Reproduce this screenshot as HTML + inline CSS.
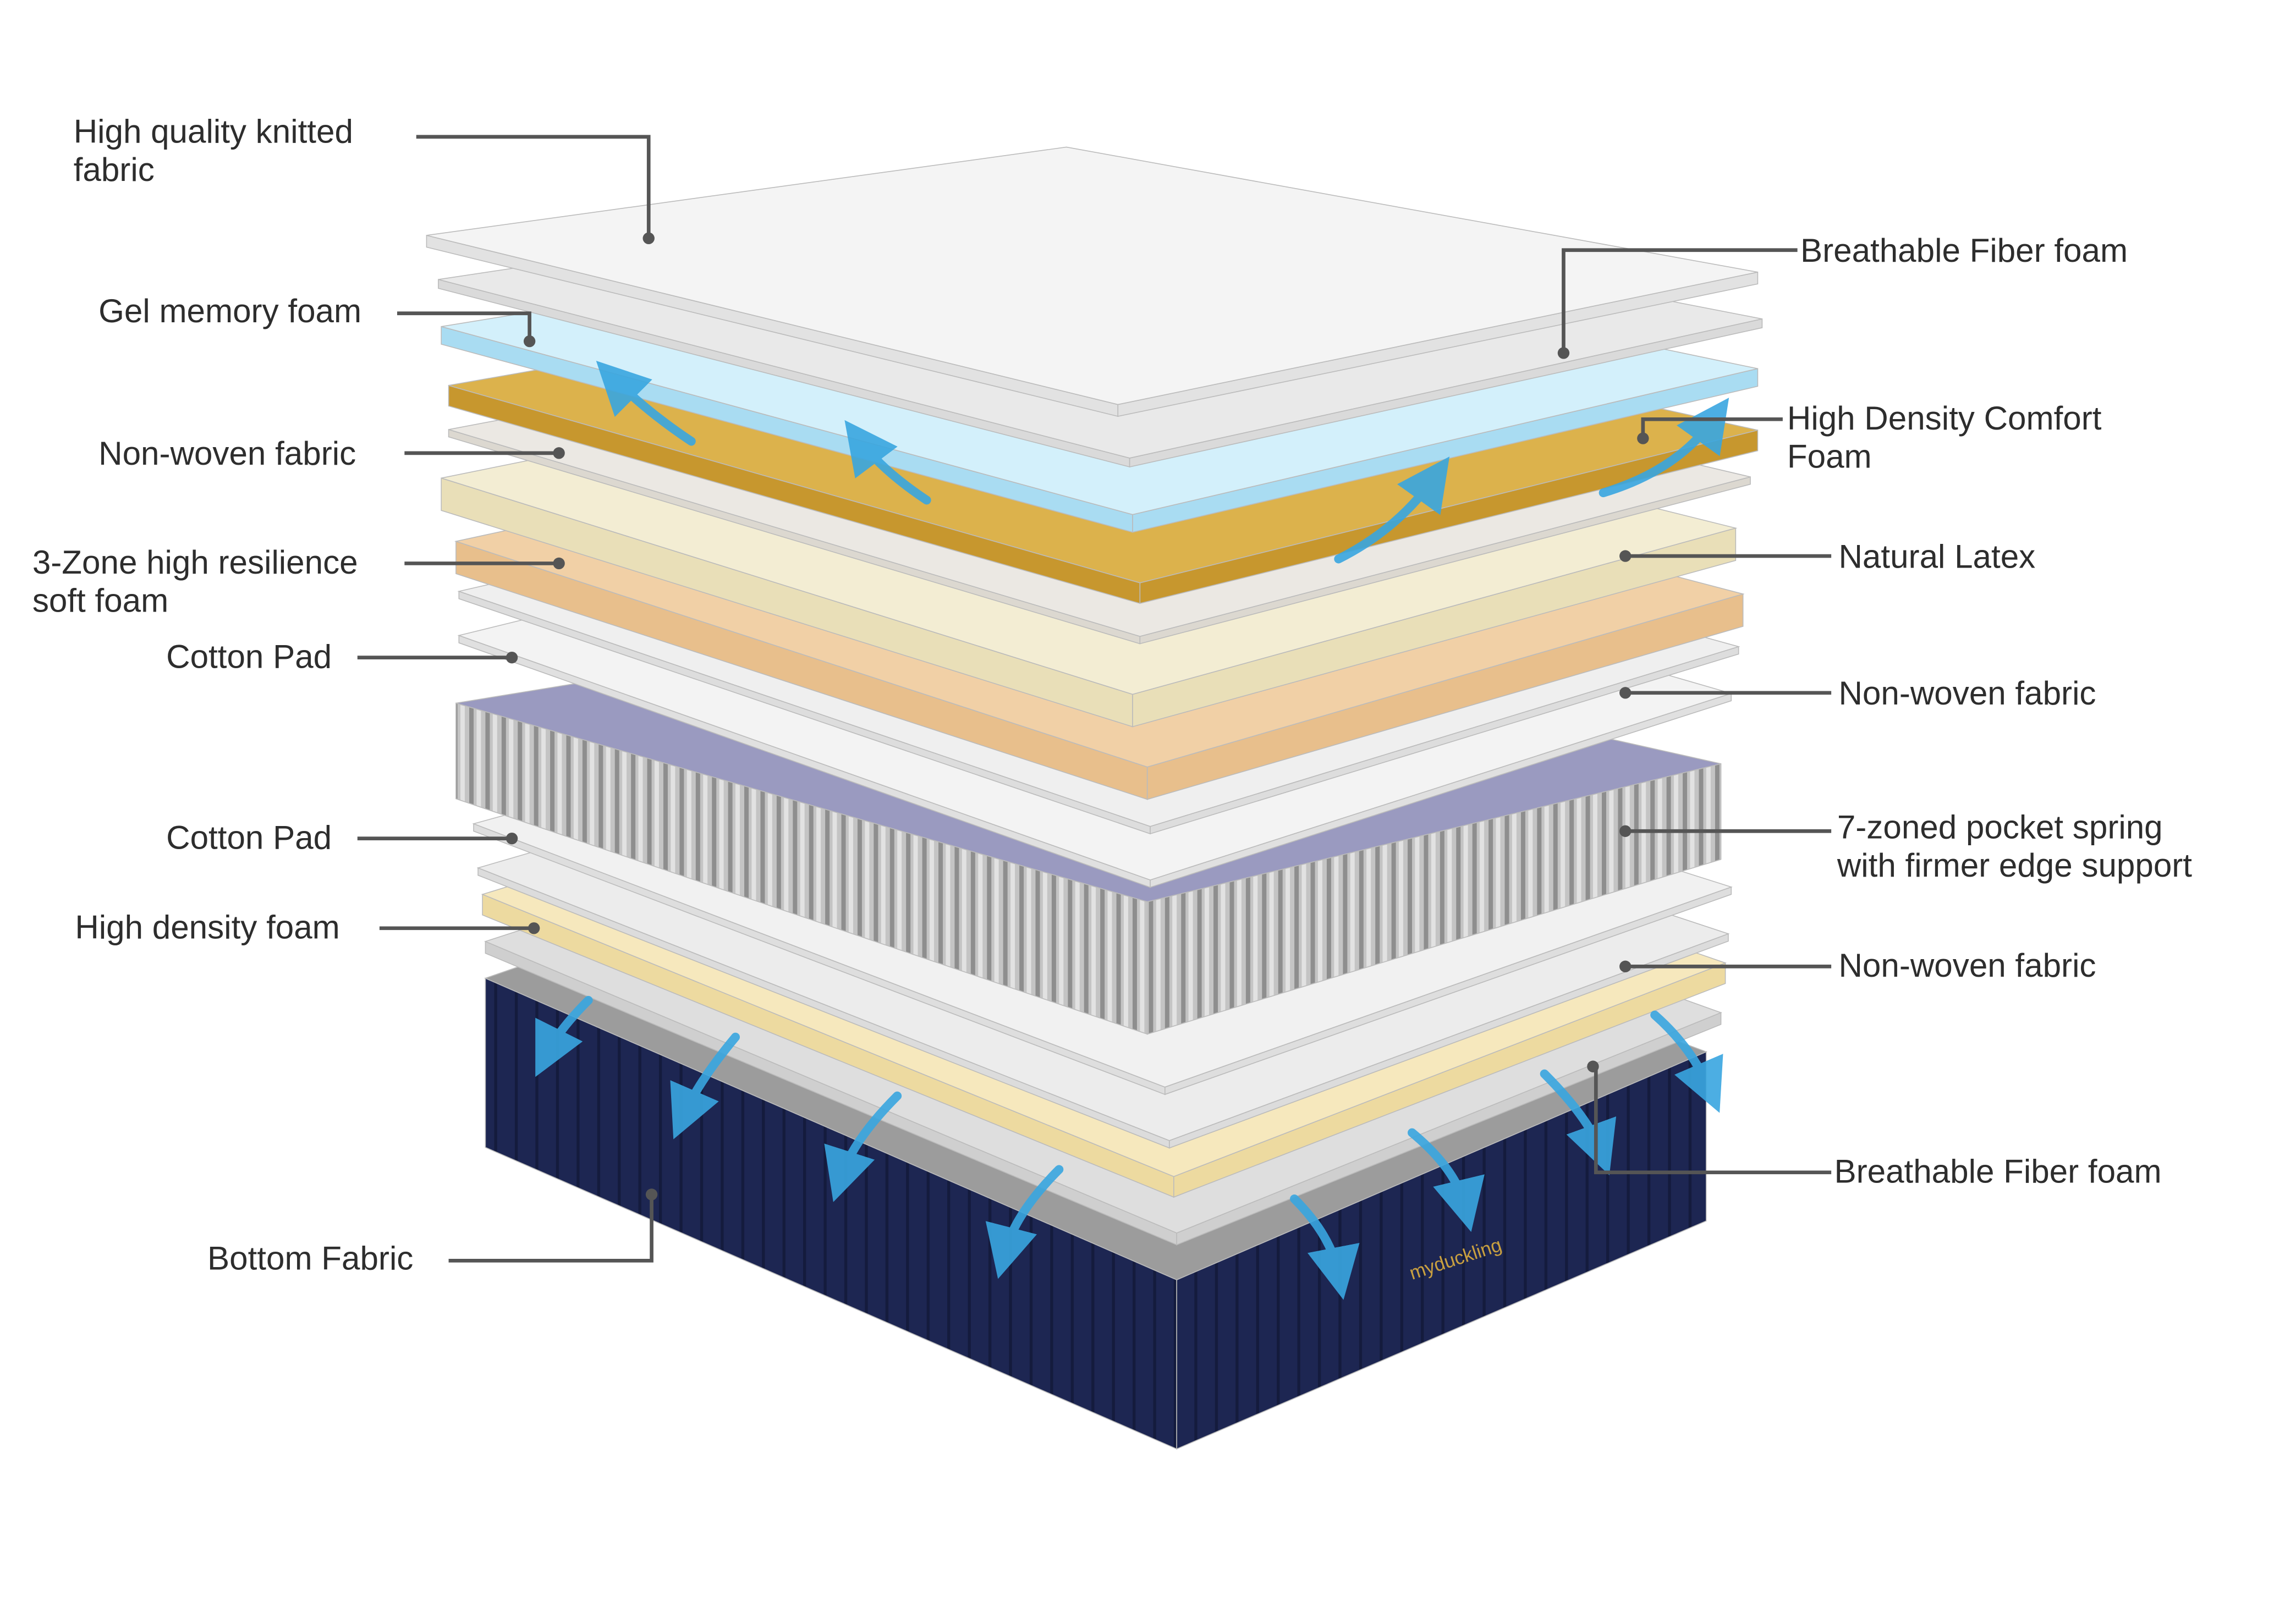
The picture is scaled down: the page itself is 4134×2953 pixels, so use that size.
<!DOCTYPE html>
<html><head><meta charset="utf-8">
<style>
html,body{margin:0;padding:0;background:#fff;}
svg{display:block;}
text{font-family:"Liberation Sans",sans-serif;font-size:22.5px;fill:#2d2d2d;}
</style></head>
<body>
<svg id="s" xmlns="http://www.w3.org/2000/svg" width="4134" height="2953" viewBox="0 0 1546 1104" preserveAspectRatio="none">
<defs>
<pattern id="spr" width="11" height="20" patternUnits="userSpaceOnUse">
<rect width="11" height="20" fill="#c4c4c4"/><rect x="0" width="3" height="20" fill="#8e8e8e"/><rect x="5" width="3" height="20" fill="#e2e2e2"/>
</pattern>
<pattern id="nav" width="14" height="20" patternUnits="userSpaceOnUse">
<rect width="14" height="20" fill="#1d2652"/><rect x="0" width="2" height="20" fill="#141b3d"/>
</pattern>
<marker id="ah" markerWidth="6" markerHeight="6" refX="3" refY="3" orient="auto"><path d="M0,0 L6,3 L0,6 Z" fill="#39a6e0"/></marker>
</defs>
<g id="layers"></g>
<g id="arrows" fill="none" stroke="#39a6e0" stroke-width="6" stroke-linecap="round" opacity="0.9">
<path d="M400,680 Q380,700 372,716" marker-end="url(#ah)"/>
<path d="M500,705 Q475,735 465,758" marker-end="url(#ah)"/>
<path d="M610,745 Q580,775 572,800" marker-end="url(#ah)"/>
<path d="M720,795 Q690,825 683,852" marker-end="url(#ah)"/>
<path d="M880,815 Q905,840 910,866" marker-end="url(#ah)"/>
<path d="M960,770 Q990,795 996,820" marker-end="url(#ah)"/>
<path d="M1050,730 Q1080,760 1088,782" marker-end="url(#ah)"/>
<path d="M1125,690 Q1150,712 1162,740" marker-end="url(#ah)"/>
<path d="M470,300 Q440,280 418,258" marker-end="url(#ah)"/>
<path d="M630,340 Q600,320 585,300" marker-end="url(#ah)"/>
<path d="M910,380 Q950,360 975,325" marker-end="url(#ah)"/>
<path d="M1090,335 Q1140,320 1165,285" marker-end="url(#ah)"/>
</g>
<g stroke="#555" stroke-width="2.5" fill="none">
<polyline points="283,93 441,93 441,162"/>
<polyline points="270,213 360,213 360,232"/>
<polyline points="275,308 380,308"/>
<polyline points="275,383 380,383"/>
<polyline points="243,447 348,447"/>
<polyline points="243,570 348,570"/>
<polyline points="258,631 363,631"/>
<polyline points="305,857 443,857 443,812"/>
<polyline points="1222,170 1063,170 1063,240"/>
<polyline points="1212,285 1117,285 1117,298"/>
<polyline points="1245,378 1105,378"/>
<polyline points="1245,471 1105,471"/>
<polyline points="1245,565 1105,565"/>
<polyline points="1245,657 1105,657"/>
<polyline points="1245,797 1085,797 1085,725"/>
</g>
<g fill="#555">
<circle cx="441" cy="162" r="4"/><circle cx="360" cy="232" r="4"/><circle cx="380" cy="308" r="4"/>
<circle cx="380" cy="383" r="4"/><circle cx="348" cy="447" r="4"/><circle cx="348" cy="570" r="4"/>
<circle cx="363" cy="631" r="4"/><circle cx="443" cy="812" r="4"/><circle cx="1063" cy="240" r="4"/>
<circle cx="1117" cy="298" r="4"/><circle cx="1105" cy="378" r="4"/><circle cx="1105" cy="471" r="4"/>
<circle cx="1105" cy="565" r="4"/><circle cx="1105" cy="657" r="4"/><circle cx="1083" cy="725" r="4"/>
</g>
<text x="50" y="97">High quality knitted</text>
<text x="50" y="123">fabric</text>
<text x="67" y="219">Gel memory foam</text>
<text x="67" y="316">Non-woven fabric</text>
<text x="22" y="390">3-Zone high resilience</text>
<text x="22" y="416">soft foam</text>
<text x="113" y="454">Cotton Pad</text>
<text x="113" y="577">Cotton Pad</text>
<text x="51" y="638">High density foam</text>
<text x="141" y="863">Bottom Fabric</text>
<text x="1224" y="178">Breathable Fiber foam</text>
<text x="1215" y="292">High Density Comfort</text>
<text x="1215" y="318">Foam</text>
<text x="1250" y="386">Natural Latex</text>
<text x="1250" y="479">Non-woven fabric</text>
<text x="1249" y="570">7-zoned pocket spring</text>
<text x="1249" y="596">with firmer edge support</text>
<text x="1250" y="664">Non-woven fabric</text>
<text x="1247" y="804">Breathable Fiber foam</text>
<text x="960" y="870" style="font-size:13px;fill:#c9a040" transform="rotate(-18 960 870)">myduckling</text>
</svg>
<script>
var L=[
[290,160,8,"#f4f4f4","#e2e2e2"],
[298,190,6,"#e9e9e9","#dadada"],
[300,222,12,"#d3f0fb","#a9dcf2"],
[305,262,14,"#dcb24c","#c7972e"],
[305,292,5,"#ebe8e3","#dcd8d0"],
[300,325,22,"#f3edd3","#e9dfb8"],
[310,368,22,"#f1d0a6","#e8bf8c"],
[312,402,5,"#efefef","#dddddd"],
[312,432,5,"#f3f3f3","#e0e0e0"],
[310,478,90,"#9a9ac0","url(#spr)"],
[322,560,5,"#f1f1f1","#dedede"],
[325,590,5,"#ececec","#dcdcdc"],
[328,608,14,"#f6e8bd","#eddaa0"],
[330,640,8,"#dedede","#cfcfcf"],
[330,665,115,"#9c9c9c","url(#nav)"]
];
var g=document.getElementById("layers"),ns="http://www.w3.org/2000/svg";
function poly(pts,fill){var p=document.createElementNS(ns,"polygon");p.setAttribute("points",pts.map(function(a){return a[0].toFixed(1)+","+a[1].toFixed(1)}).join(" "));p.setAttribute("fill",fill);p.setAttribute("stroke","#bbb");p.setAttribute("stroke-width","0.6");g.appendChild(p);}
for(var i=L.length-1;i>=0;i--){
 var l=L[i],x=l[0],y=l[1],t=l[2],tl=t;
 var fx=470,fy=115+6.4*i,rx=905-5*i,ry=25+1.8*i;
 if(i==9){fy=135;tl=65;}
 if(i==14){fx=470;fy=205;rx=830;ry=50;}
 var Lp=[x,y],F=[x+fx,y+fy],R=[x+rx,y+ry],B=[x+rx-fx,y+ry-fy+30];
 poly([Lp,F,[F[0],F[1]+t],[Lp[0],Lp[1]+tl]],l[4]);
 poly([F,R,[R[0],R[1]+tl],[F[0],F[1]+t]],l[4]);
 poly([Lp,B,R,F],l[3]);
}
</script>
</body></html>
